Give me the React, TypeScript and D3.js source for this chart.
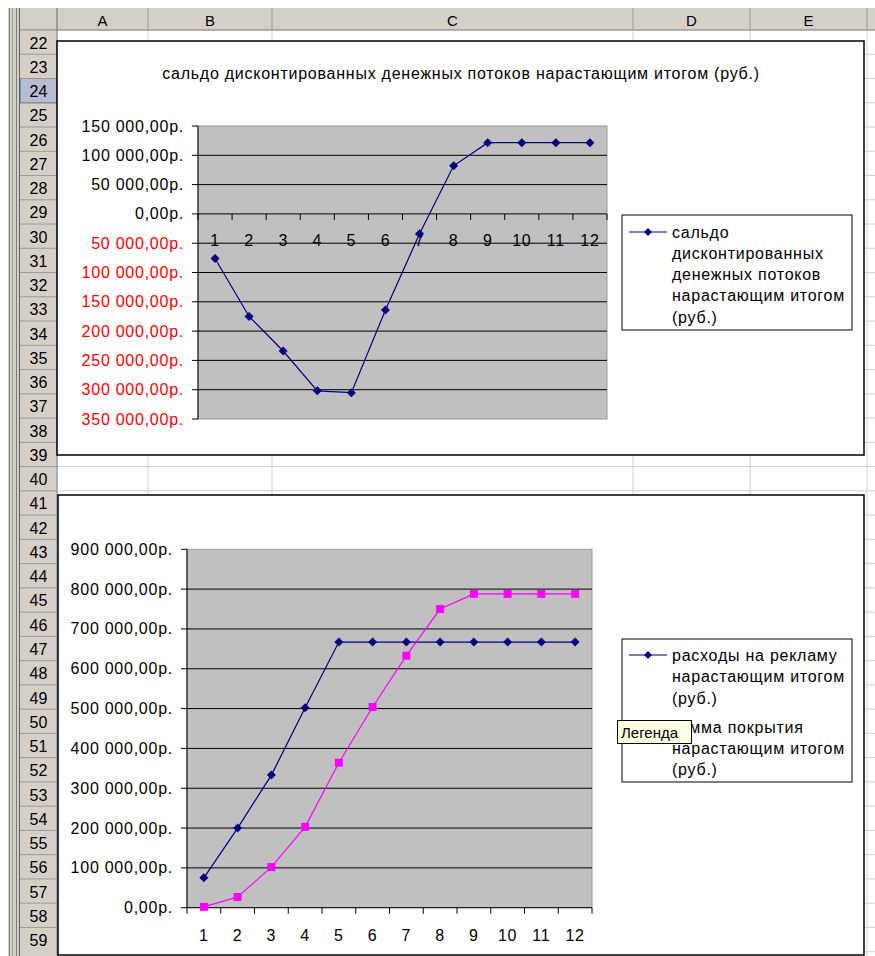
import * as d3 from "d3";

// months on the category axis
const months = ["1", "2", "3", "4", "5", "6", "7", "8", "9", "10", "11", "12"];

// сальдо дисконтированных денежных потоков нарастающим итогом (руб.)
const saldo = [-76000, -175000, -234000, -302000, -305000, -164000, -34000, 82000, 121500, 121500, 121500, 121500];

// расходы на рекламу нарастающим итогом (руб.)
const adCosts = [75000, 200000, 333000, 502000, 667000, 667000, 667000, 667000, 667000, 667000, 667000, 667000];

// сумма покрытия нарастающим итогом (руб.)
const coverage = [2000, 27000, 102000, 203000, 364000, 504000, 633000, 750000, 788000, 788000, 788000, 788000];

const columnNames = ["A", "B", "C", "D", "E", ""];
const columnEdges = [57, 148, 272, 633, 750, 867, 960];
const firstRow = 22;
const lastRow = 59;

const topTitle = "сальдо дисконтированных денежных потоков нарастающим итогом (руб.)";
const topLegend = ["сальдо", "дисконтированных", "денежных потоков", "нарастающим итогом", "(руб.)"];
const adLegend = ["расходы на рекламу", "нарастающим итогом", "(руб.)"];
const covLegend = ["сумма покрытия", "нарастающим итогом", "(руб.)"];

const W = 875;
const H = 956;
const FONT = "'Liberation Sans', Arial, sans-serif";
const FS = 16;
const LS = 0.75;
const NAVY = "#000080";
const MAGENTA = "#ff00ff";
const PLOT_BG = "#c0c0c0";
const HEADER_BG = "#d4d0c8";

const rowTop = 30;
const rowH = 24.255;

const fmtNum = (v: number) =>
  d3.format(",.2f")(Math.abs(v)).replace(/,/g, " ").replace(".", ",") + "р.";

function diamond(x: number, y: number, r: number) {
  return `M${x},${y - r}L${x + r},${y}L${x},${y + r}L${x - r},${y}Z`;
}

function Sheet() {
  const rows = d3.range(firstRow, lastRow + 2);
  return (
    <g>
      <rect x={0} y={0} width={W} height={H} fill="#fff" />
      {/* cell grid */}
      {rows.map((r, i) => (
        <line key={"h" + r} x1={57} x2={W} y1={rowTop + i * rowH} y2={rowTop + i * rowH} stroke="#d0d0d0" />
      ))}
      {columnEdges.map((x) => (
        <line key={"v" + x} x1={x} x2={x} y1={rowTop} y2={H} stroke="#d0d0d0" />
      ))}
      {/* column header */}
      <rect x={20} y={8} width={W - 20} height={22} fill={HEADER_BG} />
      <line x1={20} x2={W} y1={30} y2={30} stroke="#808080" />
      {columnNames.map((c, i) => (
        <g key={"c" + i}>
          <line x1={columnEdges[i]} x2={columnEdges[i]} y1={8} y2={30} stroke="#9c9a94" />
          <text
            x={(columnEdges[i] + columnEdges[i + 1]) / 2}
            y={20}
            textAnchor="middle"
            dominantBaseline="central"
            fontFamily={FONT}
            fontSize={15}
          >
            {c}
          </text>
        </g>
      ))}
      {/* row header */}
      <rect x={20} y={30} width={37} height={H - 30} fill={HEADER_BG} />
      {rows.slice(0, -1).map((r, i) => {
        const y0 = rowTop + i * rowH;
        const sel = r === 24;
        return (
          <g key={"r" + r}>
            {sel && <rect x={20} y={y0} width={37} height={rowH} fill="#b6bdd2" stroke="#3f5ba0" />}
            <line x1={20} x2={57} y1={y0} y2={y0} stroke="#9c9a94" />
            <text
              x={38.5}
              y={y0 + rowH / 2 + 1}
              textAnchor="middle"
              dominantBaseline="central"
              fontFamily={FONT}
              fontSize={16}
            >
              {r}
            </text>
          </g>
        );
      })}
      <line x1={57} x2={57} y1={8} y2={H} stroke="#808080" />
      {/* window frame on the left */}
      <rect x={8} y={8} width={12} height={H - 8} fill={HEADER_BG} />
      <line x1={9.5} x2={9.5} y1={8} y2={H} stroke="#808080" />
      <line x1={12.5} x2={12.5} y1={8} y2={H} stroke="#a0a0a0" />
      <line x1={16.5} x2={16.5} y1={8} y2={H} stroke="#808080" />
      <line x1={19.5} x2={19.5} y1={8} y2={H} stroke="#606060" />
    </g>
  );
}

function LegendText({ lines, x, y, step }: { lines: string[]; x: number; y: number; step: number }) {
  return (
    <g fontFamily={FONT} fontSize={FS} letterSpacing={LS}>
      {lines.map((t, i) => (
        <text key={i} x={x} y={y + i * step} dominantBaseline="central">
          {t}
        </text>
      ))}
    </g>
  );
}

function TopChart() {
  const x = d3.scaleBand().domain(months).range([198, 607]);
  const y = d3.scaleLinear().domain([-350000, 150000]).range([419, 126]);
  const ticks = y.ticks(10);
  const cx = (m: string) => (x(m) as number) + x.bandwidth() / 2;
  const line = d3
    .line<number>()
    .x((_, i) => cx(months[i]))
    .y((v) => y(v));
  const bounds = d3.range(0, months.length + 1).map((i) => 198 + i * x.bandwidth());
  return (
    <g>
      <rect x={57} y={41} width={807} height={414} fill="#fff" stroke="#000" strokeWidth={1.5} />
      <text
        x={461}
        y={73}
        textAnchor="middle"
        dominantBaseline="central"
        fontFamily={FONT}
        fontSize={FS}
        letterSpacing={LS}
      >
        {topTitle}
      </text>
      <rect x={198} y={126} width={409} height={293} fill={PLOT_BG} stroke="#9a9a9a" />
      {ticks
        .filter((t) => t !== 150000 && t !== -350000 && t !== 0)
        .map((t) => (
          <line key={t} x1={198} x2={607} y1={y(t)} y2={y(t)} stroke="#000" />
        ))}
      {/* value axis */}
      <line x1={198} x2={198} y1={126} y2={419} stroke="#000" />
      <g fontFamily={FONT} fontSize={FS} letterSpacing={LS}>
        {ticks.map((t) => (
          <g key={"yt" + t}>
            <line x1={192} x2={198} y1={y(t)} y2={y(t)} stroke="#000" />
            <text
              x={184}
              y={y(t)}
              textAnchor="end"
              dominantBaseline="central"
              fill={t < 0 ? "#ff0000" : "#000"}
            >
              {fmtNum(t)}
            </text>
          </g>
        ))}
        {months.map((m) => (
          <text key={"xl" + m} x={cx(m)} y={240} textAnchor="middle" dominantBaseline="central">
            {m}
          </text>
        ))}
      </g>
      {/* category axis at zero */}
      <line x1={198} x2={607} y1={y(0)} y2={y(0)} stroke="#000" />
      {bounds.map((b) => (
        <line key={"xt" + b} x1={b} x2={b} y1={y(0)} y2={y(0) + 6} stroke="#000" />
      ))}
      <path d={line(saldo) as string} fill="none" stroke={NAVY} strokeWidth={1.2} />
      {saldo.map((v, i) => (
        <path key={"p" + i} d={diamond(cx(months[i]), y(v), 4.5)} fill={NAVY} />
      ))}
      {/* legend */}
      <rect x={622} y={215} width={230} height={115} fill="#fff" stroke="#000" />
      <line x1={629} x2={667} y1={232} y2={232} stroke={NAVY} strokeWidth={1.2} />
      <path d={diamond(648, 232, 4)} fill={NAVY} />
      <LegendText lines={topLegend} x={672} y={232} step={21.3} />
    </g>
  );
}

function BottomChart() {
  const x = d3.scaleBand().domain(months).range([187, 592]);
  const y = d3.scaleLinear().domain([0, 900000]).range([907.7, 549.3]);
  const ticks = y.ticks(9);
  const cx = (m: string) => (x(m) as number) + x.bandwidth() / 2;
  const line = d3
    .line<number>()
    .x((_, i) => cx(months[i]))
    .y((v) => y(v));
  const bounds = d3.range(0, months.length + 1).map((i) => 187 + i * x.bandwidth());
  return (
    <g>
      <rect x={58} y={495} width={806} height={460} fill="#fff" stroke="#000" strokeWidth={1.5} />
      <rect x={187} y={549.3} width={405} height={358.4} fill={PLOT_BG} stroke="#9a9a9a" />
      {ticks
        .filter((t) => t !== 0 && t !== 900000)
        .map((t) => (
          <line key={t} x1={187} x2={592} y1={y(t)} y2={y(t)} stroke="#000" />
        ))}
      <line x1={187} x2={187} y1={549.3} y2={907.7} stroke="#000" />
      <g fontFamily={FONT} fontSize={FS} letterSpacing={LS}>
        {ticks.map((t) => (
          <g key={"yt" + t}>
            <line x1={181} x2={187} y1={y(t)} y2={y(t)} stroke="#000" />
            <text x={173} y={y(t)} textAnchor="end" dominantBaseline="central">
              {fmtNum(t)}
            </text>
          </g>
        ))}
        {months.map((m) => (
          <text key={"xl" + m} x={cx(m)} y={935} textAnchor="middle" dominantBaseline="central">
            {m}
          </text>
        ))}
      </g>
      <line x1={187} x2={592} y1={y(0)} y2={y(0)} stroke="#000" />
      {bounds.map((b) => (
        <line key={"xt" + b} x1={b} x2={b} y1={y(0)} y2={y(0) + 6} stroke="#000" />
      ))}
      <path d={line(adCosts) as string} fill="none" stroke={NAVY} strokeWidth={1.2} />
      {adCosts.map((v, i) => (
        <path key={"a" + i} d={diamond(cx(months[i]), y(v), 4.5)} fill={NAVY} />
      ))}
      <path d={line(coverage) as string} fill="none" stroke={MAGENTA} strokeWidth={1.2} />
      {coverage.map((v, i) => (
        <rect key={"c" + i} x={cx(months[i]) - 4} y={y(v) - 4} width={8} height={8} fill={MAGENTA} />
      ))}
      {/* legend */}
      <rect x={622} y={639} width={230} height={143} fill="#fff" stroke="#000" />
      <line x1={629} x2={667} y1={655} y2={655} stroke={NAVY} strokeWidth={1.2} />
      <path d={diamond(648, 655, 4)} fill={NAVY} />
      <LegendText lines={adLegend} x={672} y={655} step={21.5} />
      <line x1={629} x2={667} y1={727} y2={727} stroke={MAGENTA} strokeWidth={1.2} />
      <rect x={644} y={723} width={8} height={8} fill={MAGENTA} />
      <LegendText lines={covLegend} x={672} y={727} step={21} />
      {/* tooltip */}
      <rect x={617.5} y={720.5} width={74} height={23} fill="#ffffe1" stroke="#000" />
      <text x={621} y={732} dominantBaseline="central" fontFamily={FONT} fontSize={15}>
        Легенда
      </text>
    </g>
  );
}

export default function App() {
  return (
    <div style={{ position: "absolute", left: 0, top: 0 }}>
      <svg width={W} height={H} viewBox={`0 0 ${W} ${H}`} style={{ display: "block" }}>
        <Sheet />
        <TopChart />
        <BottomChart />
      </svg>
    </div>
  );
}
